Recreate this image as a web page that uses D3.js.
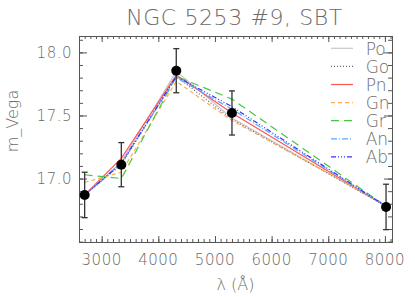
<!DOCTYPE html>
<html>
<head>
<meta charset="utf-8">
<script src="https://cdn.jsdelivr.net/npm/d3@7"></script>
<style>
  body { margin: 0; background: #fff; }
  text { font-family: "DejaVu Sans", sans-serif; font-weight: 200; fill: #6a6a6a; }
  .axis path, .axis line { stroke: #555; stroke-width: 1; }
</style>
</head>
<body>
<div id="chart"></div>
<script>
// observed points
var wave = [2700, 3347, 4317, 5300, 8020];
var mag = [16.87, 17.11, 17.855, 17.52, 16.775];
var magErr = [0.18, 0.175, 0.175, 0.175, 0.18];

// model series, same wavelengths
var seriesNames = ["Po", "Go", "Pn", "Gn", "Gr", "An", "Ab"];
var po = [16.87, 17.13, 17.85, 17.48, 16.78];
var go = [16.87, 17.11, 17.81, 17.47, 16.78];
var pn = [16.87, 17.16, 17.82, 17.52, 16.78];
var gn = [16.97, 17.05, 17.77, 17.46, 16.79];
var gr = [17.03, 17.00, 17.81, 17.63, 16.78];
var an = [16.87, 17.12, 17.80, 17.55, 16.78];
var ab = [16.87, 17.12, 17.81, 17.57, 16.78];

var xMajor = [3000, 4000, 5000, 6000, 7000, 8000];
var yMajor = [17.0, 17.5, 18.0];

var styles = {
  Po: { color: "#c8c8c8", dash: null },
  Go: { color: "#666666", dash: "1,2" },
  Pn: { color: "#ff5555", dash: null },
  Gn: { color: "#ffaa55", dash: "4,3" },
  Gr: { color: "#44c844", dash: "8,5" },
  An: { color: "#55aaff", dash: "6,2,1,2" },
  Ab: { color: "#3333ff", dash: "5,2,1,2,1,2,1,2" }
};
var seriesValues = { Po: po, Go: go, Pn: pn, Gn: gn, Gr: gr, An: an, Ab: ab };

var W = 415, H = 297;
var margin = { top: 36, right: 23, bottom: 55, left: 79 };
var width = W - margin.left - margin.right;
var height = H - margin.top - margin.bottom;

var x = d3.scaleLinear().domain([2600, 8125]).range([0, width]);
var y = d3.scaleLinear().domain([16.497, 18.13]).range([height, 0]);

var svg = d3.select("#chart").append("svg")
  .attr("width", W)
  .attr("height", H);

var g = svg.append("g")
  .attr("transform", "translate(" + margin.left + "," + margin.top + ")");

var xMinor = d3.range(2700, 8101, 100);
var yMinor = d3.range(16.5, 18.11, 0.1);

// x axes
g.append("g").attr("class", "axis")
  .attr("transform", "translate(0," + height + ")")
  .call(d3.axisTop(x).tickValues(xMinor).tickSize(3).tickFormat(""));
g.append("g").attr("class", "axis")
  .attr("transform", "translate(0," + height + ")")
  .call(d3.axisTop(x).tickValues(xMajor).tickSize(6).tickFormat(""));
g.append("g").attr("class", "axis")
  .call(d3.axisBottom(x).tickValues(xMinor).tickSize(3).tickFormat(""));
g.append("g").attr("class", "axis")
  .call(d3.axisBottom(x).tickValues(xMajor).tickSize(6).tickFormat(""));

// y axes
g.append("g").attr("class", "axis")
  .call(d3.axisRight(y).tickValues(yMinor).tickSize(4).tickFormat(""));
g.append("g").attr("class", "axis")
  .call(d3.axisRight(y).tickValues(yMajor).tickSize(8).tickFormat(""));
g.append("g").attr("class", "axis")
  .attr("transform", "translate(" + width + ",0)")
  .call(d3.axisLeft(y).tickValues(yMinor).tickSize(4).tickFormat(""));
g.append("g").attr("class", "axis")
  .attr("transform", "translate(" + width + ",0)")
  .call(d3.axisLeft(y).tickValues(yMajor).tickSize(8).tickFormat(""));

g.selectAll(".axis path").attr("stroke", "#555");

// tick labels
g.selectAll(".xlab")
  .data(xMajor)
  .enter().append("text")
  .attr("x", function (d) { return x(d); })
  .attr("y", height + 23)
  .attr("text-anchor", "middle")
  .style("font-size", "15px")
  .style("letter-spacing", "0.5px")
  .text(function (d) { return d; });

g.selectAll(".ylab")
  .data(yMajor)
  .enter().append("text")
  .attr("x", -7)
  .attr("y", function (d) { return y(d) + 5.5; })
  .attr("text-anchor", "end")
  .style("font-size", "15px")
  .style("letter-spacing", "0.5px")
  .text(function (d) { return d3.format(".1f")(d); });

// model lines
var line = d3.line()
  .x(function (d, i) { return x(wave[i]); })
  .y(function (d) { return y(d); });

seriesNames.forEach(function (name) {
  g.append("path")
    .datum(seriesValues[name])
    .attr("fill", "none")
    .attr("stroke", styles[name].color)
    .attr("stroke-width", 1.2)
    .attr("stroke-dasharray", styles[name].dash)
    .attr("d", line);
});

// error bars
var pts = wave.map(function (w, i) { return { w: w, m: mag[i], e: magErr[i] }; });
g.selectAll(".err")
  .data(pts)
  .enter().append("line")
  .attr("x1", function (d) { return x(d.w); })
  .attr("x2", function (d) { return x(d.w); })
  .attr("y1", function (d) { return y(d.m + d.e); })
  .attr("y2", function (d) { return y(d.m - d.e); })
  .attr("stroke", "#333")
  .attr("stroke-width", 1.3);
[1, -1].forEach(function (s) {
  g.selectAll(".cap" + s)
    .data(pts)
    .enter().append("line")
    .attr("x1", function (d) { return x(d.w) - 3; })
    .attr("x2", function (d) { return x(d.w) + 3; })
    .attr("y1", function (d) { return y(d.m + s * d.e); })
    .attr("y2", function (d) { return y(d.m + s * d.e); })
    .attr("stroke", "#333")
    .attr("stroke-width", 1.3);
});
g.selectAll(".pt")
  .data(pts)
  .enter().append("circle")
  .attr("cx", function (d) { return x(d.w); })
  .attr("cy", function (d) { return y(d.m); })
  .attr("r", 5)
  .attr("fill", "#000");

// legend
var leg = g.append("g")
  .attr("transform", "translate(" + (width - 61) + ",12.3)");
seriesNames.forEach(function (name, i) {
  var row = leg.append("g").attr("transform", "translate(0," + (i * 18.1) + ")");
  row.append("line")
    .attr("x1", 0).attr("x2", 22)
    .attr("y1", 0).attr("y2", 0)
    .attr("stroke", styles[name].color)
    .attr("stroke-width", 1.2)
    .attr("stroke-dasharray", styles[name].dash);
  row.append("text")
    .attr("x", 34.7)
    .attr("y", 6.5)
    .style("font-size", "17px")
    .text(name);
});

// title and axis titles
svg.append("text")
  .attr("x", margin.left + width / 2 - 1)
  .attr("y", 25)
  .attr("text-anchor", "middle")
  .style("font-size", "22px")
  .style("letter-spacing", "0.6px")
  .text("NGC 5253 #9, SBT");

svg.append("text")
  .attr("x", margin.left + width / 2)
  .attr("y", 290)
  .attr("text-anchor", "middle")
  .style("font-size", "16px")
  .text("λ (Å)");

svg.append("text")
  .attr("transform", "translate(18," + (margin.top + 85) + ") rotate(-90)")
  .attr("text-anchor", "middle")
  .style("font-size", "16px")
  .text("m_Vega");
</script>
</body>
</html>
